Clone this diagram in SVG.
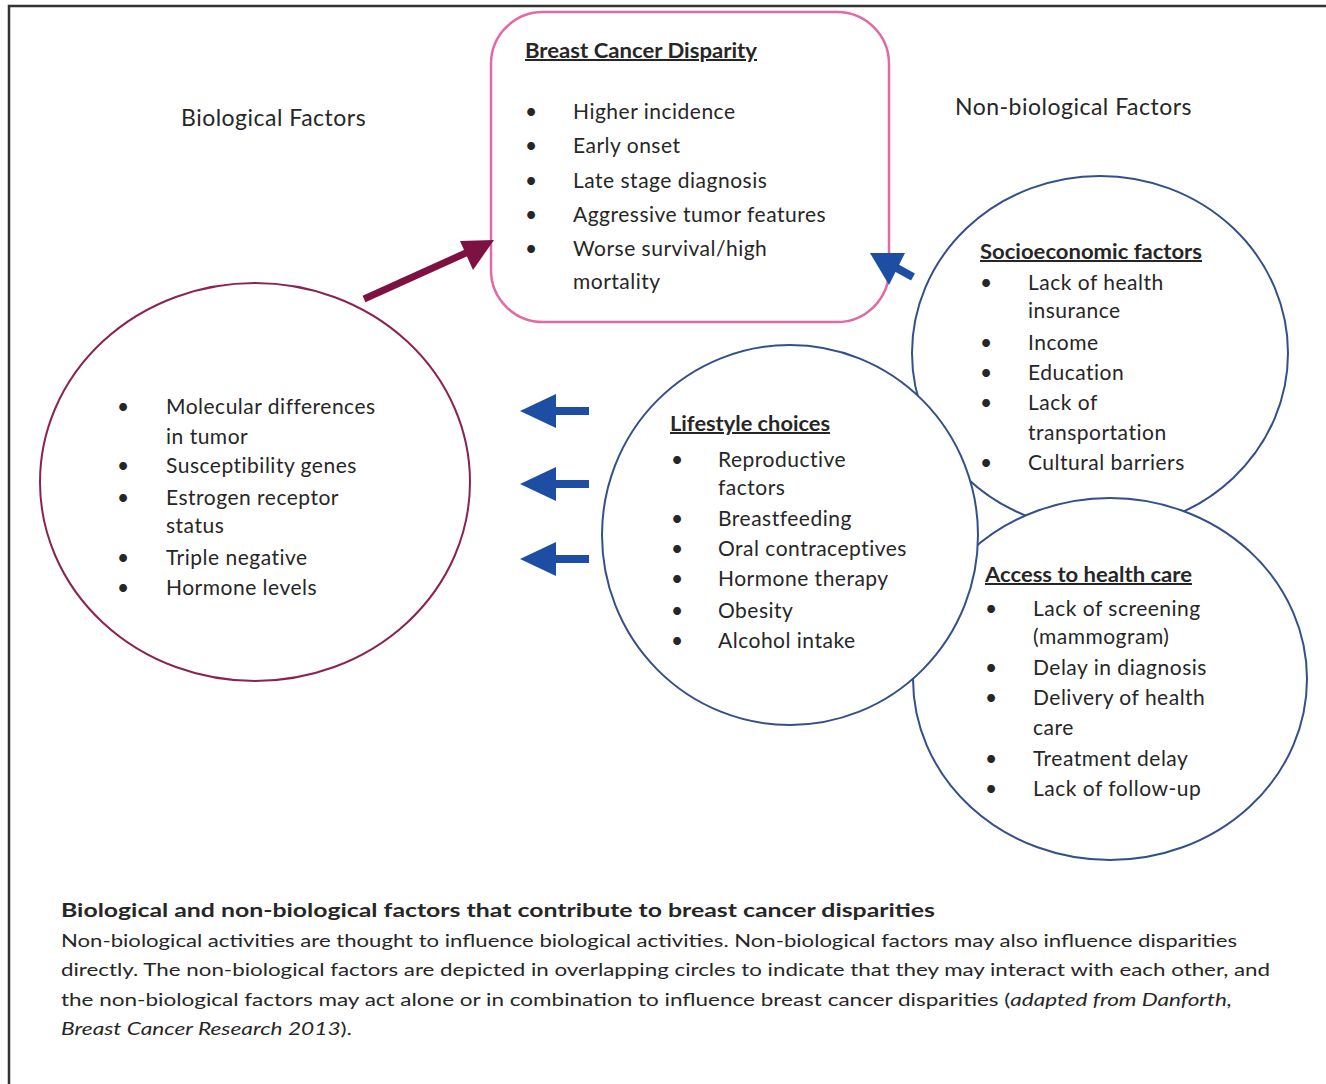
<svg xmlns="http://www.w3.org/2000/svg" width="1326" height="1084" viewBox="0 0 1326 1084">
<style>
text{font-family:Lato,"Liberation Sans",sans-serif;fill:#262626;}
.h{font-size:23px;letter-spacing:0.5px;}
.t{font-size:21px;letter-spacing:0.5px;}
.b{font-size:20px;font-weight:bold;text-decoration:underline;}
.cap{font-size:17px;}
.capb{font-size:19px;font-weight:bold;}
.blue{fill:#fff;stroke:#34508a;stroke-width:2;}
.bio{fill:#fff;stroke:#8a2352;stroke-width:2;}
.arrB{fill:#1d4ea3;}
.shaftB{stroke:#1d4ea3;stroke-width:8;}
</style>
<rect width="1326" height="1084" fill="#fff"/>
<g id="frame" stroke="#333" stroke-width="2.5" fill="none">
<path d="M9,1084 V6 H1326"/>
</g>
<g id="labels">
<text class="h" x="181" y="126">Biological Factors</text>
<text class="h" x="955" y="115">Non-biological Factors</text>
</g>
<g id="disparity">
<rect x="491" y="12" width="398" height="310" rx="52" ry="52" fill="#fff" stroke="#e368a6" stroke-width="2.5"/>
<text class="b" x="525" y="58" textLength="232" lengthAdjust="spacingAndGlyphs">Breast Cancer Disparity</text>
<g class="t">
<text x="525" y="119">•</text><text x="573" y="119">Higher incidence</text>
<text x="525" y="153">•</text><text x="573" y="153">Early onset</text>
<text x="525" y="188">•</text><text x="573" y="188">Late stage diagnosis</text>
<text x="525" y="222">•</text><text x="573" y="222">Aggressive tumor features</text>
<text x="525" y="256">•</text><text x="573" y="256">Worse survival/high</text>
<text x="573" y="289">mortality</text>
</g>
</g>
<g id="biological">
<ellipse class="bio" cx="255" cy="482" rx="215" ry="199"/>
<g class="t">
<text x="117" y="414">•</text><text x="166" y="414">Molecular differences</text>
<text x="166" y="444">in tumor</text>
<text x="117" y="473">•</text><text x="166" y="473">Susceptibility genes</text>
<text x="117" y="505">•</text><text x="166" y="505">Estrogen receptor</text>
<text x="166" y="533">status</text>
<text x="117" y="565">•</text><text x="166" y="565">Triple negative</text>
<text x="117" y="595">•</text><text x="166" y="595">Hormone levels</text>
</g>
</g>
<g id="socioeconomic">
<ellipse class="blue" cx="1100" cy="353" rx="188" ry="177"/>
<text class="b" x="980" y="259" textLength="222" lengthAdjust="spacingAndGlyphs">Socioeconomic factors</text>
<g class="t">
<text x="980" y="290">•</text><text x="1028" y="290">Lack of health</text>
<text x="1028" y="318">insurance</text>
<text x="980" y="350">•</text><text x="1028" y="350">Income</text>
<text x="980" y="380">•</text><text x="1028" y="380">Education</text>
<text x="980" y="410">•</text><text x="1028" y="410">Lack of</text>
<text x="1028" y="440">transportation</text>
<text x="980" y="470">•</text><text x="1028" y="470">Cultural barriers</text>
</g>
</g>
<g id="access">
<ellipse class="blue" cx="1110" cy="679" rx="197" ry="181"/>
<text class="b" x="985" y="582" textLength="207" lengthAdjust="spacingAndGlyphs">Access to health care</text>
<g class="t">
<text x="985" y="616">•</text><text x="1033" y="616">Lack of screening</text>
<text x="1033" y="644">(mammogram)</text>
<text x="985" y="675">•</text><text x="1033" y="675">Delay in diagnosis</text>
<text x="985" y="705">•</text><text x="1033" y="705">Delivery of health</text>
<text x="1033" y="735">care</text>
<text x="985" y="766">•</text><text x="1033" y="766">Treatment delay</text>
<text x="985" y="796">•</text><text x="1033" y="796">Lack of follow-up</text>
</g>
</g>
<g id="lifestyle">
<ellipse class="blue" cx="790" cy="535" rx="188" ry="190"/>
<text class="b" x="670" y="431" textLength="160" lengthAdjust="spacingAndGlyphs">Lifestyle choices</text>
<g class="t">
<text x="671" y="467">•</text><text x="718" y="467">Reproductive</text>
<text x="718" y="495">factors</text>
<text x="671" y="526">•</text><text x="718" y="526">Breastfeeding</text>
<text x="671" y="556">•</text><text x="718" y="556">Oral contraceptives</text>
<text x="671" y="586">•</text><text x="718" y="586">Hormone therapy</text>
<text x="671" y="618">•</text><text x="718" y="618">Obesity</text>
<text x="671" y="648">•</text><text x="718" y="648">Alcohol intake</text>
</g>
</g>
<g id="connectors">
<line x1="364" y1="299" x2="468" y2="252" stroke="#7d1242" stroke-width="7"/>
<polygon points="494,240 460,241 473,270" fill="#7d1242"/>
<line x1="893" y1="266" x2="913" y2="277" class="shaftB"/>
<polygon class="arrB" points="870,253 905,253 889,285"/>
<line x1="553" y1="411" x2="589" y2="411" class="shaftB"/>
<polygon class="arrB" points="520,411 556,394 556,428"/>
<line x1="553" y1="484" x2="589" y2="484" class="shaftB"/>
<polygon class="arrB" points="520,484 556,467 556,501"/>
<line x1="553" y1="559" x2="589" y2="559" class="shaftB"/>
<polygon class="arrB" points="520,559 556,542 556,576"/>
</g>
<g id="caption">
<text class="capb" x="61" y="917" textLength="874" lengthAdjust="spacingAndGlyphs">Biological and non-biological factors that contribute to breast cancer disparities</text>
<text class="cap" x="61" y="947" textLength="1176" lengthAdjust="spacingAndGlyphs">Non-biological activities are thought to influence biological activities. Non-biological factors may also influence disparities</text>
<text class="cap" x="61" y="976" textLength="1209" lengthAdjust="spacingAndGlyphs">directly. The non-biological factors are depicted in overlapping circles to indicate that they may interact with each other, and</text>
<text class="cap" x="61" y="1006" textLength="1171" lengthAdjust="spacingAndGlyphs">the non-biological factors may act alone or in combination to influence breast cancer disparities (<tspan font-style="italic">adapted from Danforth,</tspan></text>
<text class="cap" x="61" y="1035" textLength="291" lengthAdjust="spacingAndGlyphs"><tspan font-style="italic">Breast Cancer Research 2013</tspan>).</text>
</g>
</svg>
